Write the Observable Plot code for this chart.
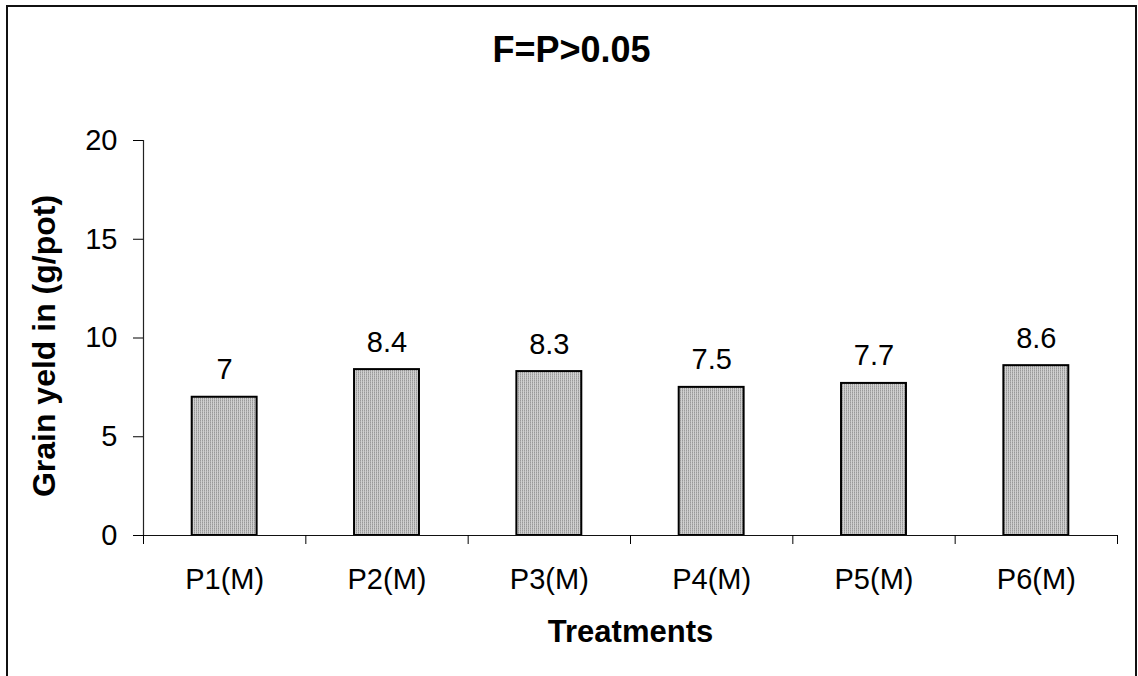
<!DOCTYPE html>
<html>
<head>
<meta charset="utf-8">
<script src="https://cdn.jsdelivr.net/npm/d3@7"></script>
<script src="https://cdn.jsdelivr.net/npm/@observablehq/plot@0.6"></script>
<style>
  html, body { margin: 0; padding: 0; background: #fff; }
  #figure {
    position: relative;
    width: 1138px;
    height: 676px;
    overflow: hidden;
    font-family: "Liberation Sans", Arial, sans-serif;
    color: #000;
  }
  #frame {
    position: absolute;
    left: 6px;
    top: 5px;
    width: 1127px;
    height: 720px;
    border: 2px solid #111;
  }
  #title {
    position: absolute;
    left: 6px;
    width: 1131px;
    top: 32px;
    text-align: center;
    font-size: 36px;
    line-height: 36px;
    font-weight: bold;
  }
  #chart { position: absolute; left: 0; top: 0; }
</style>
</head>
<body>
<div id="figure">
  <div id="frame"></div>
  <div id="title">F=P&gt;0.05</div>
  <div id="chart"></div>
</div>
<script>
// Grain yield per treatment
const treatments = ["P1(M)", "P2(M)", "P3(M)", "P4(M)", "P5(M)", "P6(M)"];
const grainYield = [7, 8.4, 8.3, 7.5, 7.7, 8.6];
const yTicks = [0, 5, 10, 15, 20];
const yTitle = "Grain yeld in (g/pot)";
const xTitle = "Treatments";

const rows = treatments.map((name, i) => ({name, i, i1: i + 1, mid: i + 0.5, value: grainYield[i]}));

const W = 1138, H = 676;
const margin = {left: 143, right: 21, top: 140, bottom: 141};
const step = (W - margin.left - margin.right) / treatments.length;
const barInset = step * 0.3;
const fontFamily = "'Liberation Sans', Arial, sans-serif";

const chart = Plot.plot({
  width: W,
  height: H,
  marginLeft: margin.left,
  marginRight: margin.right,
  marginTop: margin.top,
  marginBottom: margin.bottom,
  style: {fontFamily, fontSize: "29px", color: "#000", background: "transparent", overflow: "visible"},
  x: {type: "linear", domain: [0, treatments.length]},
  y: {domain: [0, 20]},
  marks: [
    Plot.rectY(rows, {
      x1: "i", x2: "i1", y1: 0, y2: "value",
      insetLeft: barInset, insetRight: barInset,
      fill: "url(#grain-dots)", stroke: "#000", strokeWidth: 2
    }),
    Plot.ruleX([0], {stroke: "#222", strokeWidth: 1.2}),
    Plot.ruleY([0], {stroke: "#111", strokeWidth: 1.2}),
    Plot.axisY({ticks: yTicks, tickSize: 10, tickPadding: 16, fontSize: 29, label: null}),
    Plot.axisX({
      ticks: rows.map((d) => d.mid),
      tickFormat: (v) => treatments[Math.floor(v)],
      tickSize: 0, tickPadding: 33, fontSize: 29, label: null
    }),
    Plot.axisX({
      ticks: d3.range(treatments.length + 1),
      tickFormat: () => "",
      tickSize: 9, tickPadding: 0, label: null
    }),
    Plot.text(rows, {
      x: "mid", y: "value", text: (d) => String(d.value),
      dy: -18, lineAnchor: "bottom", fontSize: 29
    }),
    Plot.text([xTitle], {
      frameAnchor: "bottom", textAnchor: "middle", dy: 106, lineAnchor: "bottom",
      fontSize: 31, fontWeight: "bold"
    }),
    Plot.text([yTitle], {
      frameAnchor: "left", textAnchor: "middle", dx: -99, dy: 8, rotate: -90, lineAnchor: "middle",
      fontSize: 32, fontWeight: "bold"
    })
  ]
});

// Fine dotted grey fill used by the bars
const defs = d3.select(chart).insert("defs", ":first-child");
const pat = defs.append("pattern")
  .attr("id", "grain-dots")
  .attr("patternUnits", "userSpaceOnUse")
  .attr("width", 2).attr("height", 2);
pat.append("rect").attr("width", 2).attr("height", 2).attr("fill", "#d0d0d0");
pat.append("rect").attr("x", 0).attr("y", 0).attr("width", 1).attr("height", 1).attr("fill", "#999999");
pat.append("rect").attr("x", 0).attr("y", 1).attr("width", 1).attr("height", 1).attr("fill", "#b0b0b0");

document.getElementById("chart").append(chart);
</script>
</body>
</html>
